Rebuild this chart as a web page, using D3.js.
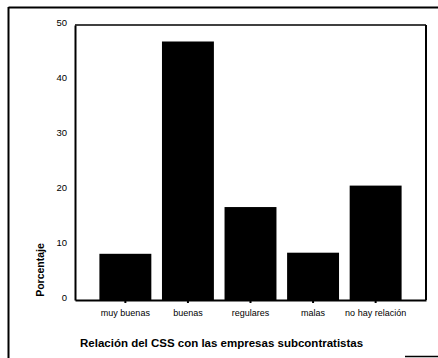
<!DOCTYPE html>
<html>
<head>
<meta charset="utf-8">
<script src="https://cdn.jsdelivr.net/npm/d3@7"></script>
<style>
  html, body { margin: 0; padding: 0; background: #fff; }
  svg { display: block; }
  text { font-family: "Liberation Sans", Arial, sans-serif; fill: #000; }
</style>
</head>
<body>
<svg id="chart" width="438" height="358"></svg>
<script>
const categories = ["muy buenas", "buenas", "regulares", "malas", "no hay relación"];
const values = [8.4, 47.0, 16.9, 8.6, 20.8];
const yTicks = [0, 10, 20, 30, 40, 50];
const yTitle = "Porcentaje";
const xTitle = "Relación del CSS con las empresas subcontratistas";

const svg = d3.select("#chart");
const mLeft = 75, mRight = 426, mTop = 25, mBottom = 300;

// outer frame (partial, as in scan)
svg.append("line").attr("x1", 8.5).attr("x2", 438).attr("y1", 7.5).attr("y2", 7.5)
  .attr("stroke", "#000").attr("stroke-width", 2);
svg.append("line").attr("x1", 8.5).attr("x2", 8.5).attr("y1", 7).attr("y2", 358)
  .attr("stroke", "#000").attr("stroke-width", 2);
svg.append("line").attr("x1", 405).attr("x2", 438).attr("y1", 356.5).attr("y2", 356.5)
  .attr("stroke", "#000").attr("stroke-width", 1.5);

const x = d3.scaleBand().domain(categories).range([mLeft, mRight])
  .paddingInner(0.17).paddingOuter(0.39);
const y = d3.scaleLinear().domain([0, 50]).range([mBottom, mTop]);

// bars
svg.append("g").selectAll("rect").data(values).join("rect")
  .attr("x", (d, i) => x(categories[i]))
  .attr("width", x.bandwidth())
  .attr("y", d => y(d))
  .attr("height", d => y(0) - y(d))
  .attr("fill", "#000");

// plot box
svg.append("line").attr("x1", mLeft).attr("x2", mRight).attr("y1", mTop).attr("y2", mTop)
  .attr("stroke", "#000").attr("stroke-width", 1.5);
svg.append("line").attr("x1", mRight).attr("x2", mRight).attr("y1", mTop).attr("y2", mBottom)
  .attr("stroke", "#000").attr("stroke-width", 2);

// y axis
const yAxis = svg.append("g").attr("transform", `translate(${mLeft},0)`)
  .call(d3.axisLeft(y).tickValues(yTicks).tickSize(0).tickPadding(8).tickFormat(d3.format("d")));
yAxis.select(".domain").attr("stroke-width", 2);
yAxis.selectAll("text").style("font-size", "9.5px").attr("dy", "0.1em");

// x axis
const xAxis = svg.append("g").attr("transform", `translate(0,${mBottom})`)
  .call(d3.axisBottom(x).tickSize(3).tickPadding(7).tickSizeOuter(0));
xAxis.select(".domain").attr("stroke-width", 2);
xAxis.selectAll(".tick line").attr("stroke-width", 2);
xAxis.selectAll("text").style("font-size", "9px");

// titles
svg.append("text").attr("transform", "translate(44,270) rotate(-90)")
  .attr("text-anchor", "middle").style("font-size", "10.5px").style("font-weight", "bold")
  .text(yTitle);
svg.append("text").attr("x", 80).attr("y", 347)
  .style("font-size", "11.5px").style("font-weight", "bold")
  .text(xTitle);
</script>
</body>
</html>
